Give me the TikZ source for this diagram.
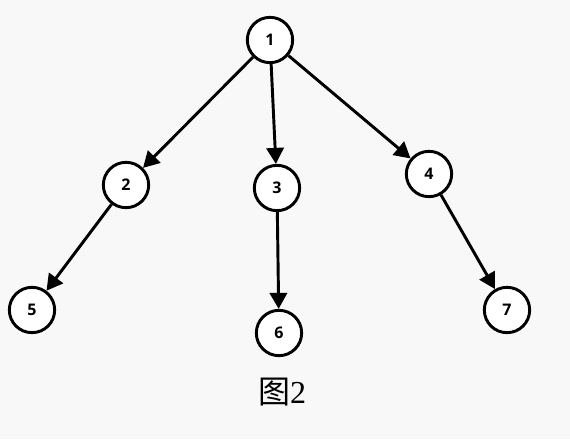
\documentclass[tikz,border=0pt]{standalone}
\usepackage{fontspec}
\setsansfont{Open Sans}
\setmainfont{Liberation Serif}
\newfontfamily\cjk{Noto Sans CJK SC}
\usetikzlibrary{arrows.meta}
\definecolor{bgcol}{HTML}{F8F8F8}
\tikzset{
  vert/.style={draw, circle, fill=white, line width=2.2pt, minimum size=34pt, inner sep=0pt, font=\sffamily\bfseries\fontsize{12}{12}\selectfont},
  edge/.style={line width=2.2pt, -{Triangle[length=12pt, width=13pt]}}
}
\begin{document}
\begin{tikzpicture}[x=0.75pt, y=-0.75pt]
\fill[bgcol] (0,0) rectangle (570,439);
\useasboundingbox (0,0) rectangle (570,439);
\node[vert] (n1) at (270,40) {1};
\node[vert] (n2) at (126,185) {2};
\node[vert] (n3) at (277,188) {3};
\node[vert] (n4) at (429,174) {4};
\node[vert] (n5) at (32,310) {5};
\node[vert] (n6) at (279,333) {6};
\node[vert] (n7) at (507,310) {7};
\draw[edge] (n1) -- (n2);
\draw[edge] (n1) -- (n3);
\draw[edge] (n1) -- (n4);
\draw[edge] (n2) -- (n5);
\draw[edge] (n3) -- (n6);
\draw[edge] (n4) -- (n7);
\node[] (cap) at (282,392) {\fontsize{24}{24}\selectfont{\cjk 图}2};
\end{tikzpicture}
\end{document}
